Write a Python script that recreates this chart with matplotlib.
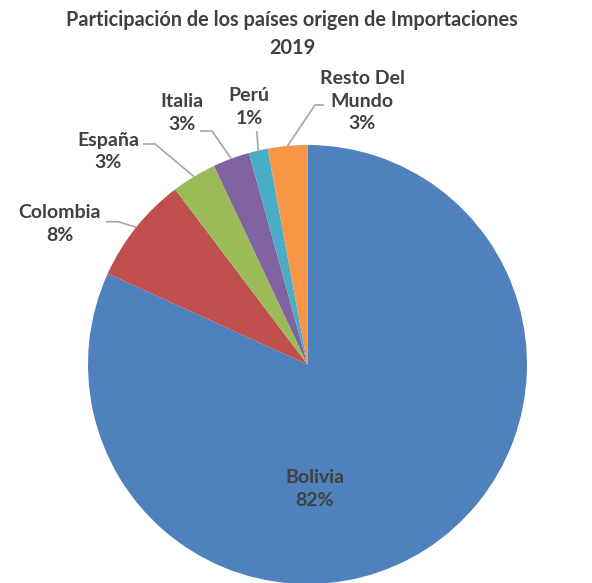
import numpy as np
import matplotlib
matplotlib.use('Agg')
import matplotlib.pyplot as plt

plt.rcParams['font.family'] = ['Lato', 'DejaVu Sans']

# datos
paises = ['Bolivia', 'Colombia', 'España', 'Italia', 'Perú', 'Resto Del\nMundo']
valores = [81.8, 7.9, 3.3, 2.7, 1.4, 2.9]
etiquetas_pct = ['82%', '8%', '3%', '3%', '1%', '3%']
colores = ['#4F81BD', '#C0504D', '#9BBB59', '#8064A2', '#4BACC6', '#F79646']

W, H = 592, 583
CX, CY, R = 307.5, 364.5, 219.5
TXT = '#404040'


def px(x, y):
    # pixel -> coordenadas de datos (radio del pie = 1)
    return (x - CX) / R, (CY - y) / R


fig = plt.figure(figsize=(W / 100, H / 100), dpi=100)
ax = fig.add_axes([0, 0, 1, 1])
ax.axis('off')

wedges, _ = ax.pie(valores, colors=colores, startangle=90, counterclock=False,
                   radius=1, wedgeprops=dict(linewidth=0))
ax.set_xlim(-CX / R, (W - CX) / R)
ax.set_ylim(-(H - CY) / R, CY / R)
ax.set_aspect('auto')

# posiciones de etiquetas (texto, codo, fin de la linea) en pixeles
layout = {
    'Colombia': ((60, 224), (118, 221.7), (106, 221.7)),
    'España': ((108, 151.5), (155, 144), (143, 144)),
    'Italia': ((182, 113), (212, 131), (200, 131)),
    'Perú': ((249, 107), (256.7, 131), None),
    'Resto Del\nMundo': ((362, 101), (315, 105), (324, 105)),
}

lbl = dict(ha='center', va='center', fontsize=14, fontweight='bold',
           color=TXT, linespacing=1.4)

for w, nombre, pct in zip(wedges, paises, etiquetas_pct):
    if nombre == 'Bolivia':
        x, y = px(315, 489)
        ax.text(x, y, nombre + '\n' + pct, **lbl)
        continue
    ang = np.deg2rad((w.theta1 + w.theta2) / 2)
    ex, ey = np.cos(ang), np.sin(ang)
    tpos, codo, fin = layout[nombre]
    pts = [(ex, ey), px(*codo)]
    if fin is not None:
        pts.append(px(*fin))
    xs, ys = zip(*pts)
    ax.plot(xs, ys, color='#A6A6A6', linewidth=1.2, solid_capstyle='butt')
    x, y = px(*tpos)
    ax.text(x, y, nombre + '\n' + pct, **lbl)

tx, ty = px(292, 34)
ax.text(tx, ty, 'Participación de los países origen de Importaciones\n2019',
        ha='center', va='center', fontsize=14.3, fontweight='bold', color=TXT,
        linespacing=1.45)

fig.savefig('out.png', dpi=100)
